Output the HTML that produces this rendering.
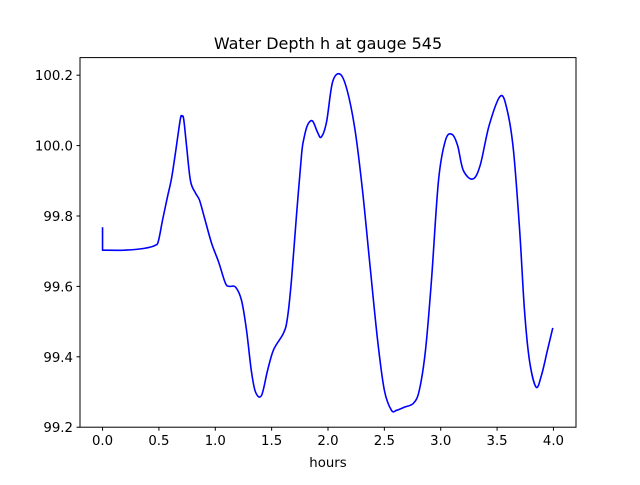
<!DOCTYPE html>
<html><head><meta charset="utf-8"><style>
body{margin:0;background:#fff;}
svg text{font-family:"DejaVu Sans","Liberation Sans",sans-serif;fill:#000;}
</style></head><body>
<svg id="chart" width="640" height="480" xmlns="http://www.w3.org/2000/svg">
<rect width="640" height="480" fill="#fff"/>
<text x="328" y="49" font-size="16" text-anchor="middle">Water Depth h at gauge 545</text>
<g id="xticks"></g>
<g id="yticks"></g>
<path id="line" fill="none" stroke="#0000ff" stroke-width="1.6" stroke-linejoin="round"/>
<rect x="80" y="57.6" width="496" height="369.6" fill="none" stroke="#000" stroke-width="1"/>
<text x="328" y="467" font-size="13.3" text-anchor="middle">hours</text>
</svg>
<script>
const times=[0,0,0.195,0.37,0.47,0.497,0.532,0.577,0.612,0.647,0.69,0.705,0.72,0.745,0.78,0.825,0.86,0.905,0.967,1.03,1.09,1.126,1.18,1.233,1.277,1.32,1.357,1.41,1.463,1.517,1.605,1.64,1.676,1.72,1.765,1.783,1.818,1.862,1.907,1.94,1.987,2.04,2.108,2.17,2.24,2.306,2.368,2.44,2.5,2.563,2.608,2.678,2.758,2.81,2.865,2.918,2.98,3.042,3.1,3.15,3.2,3.284,3.35,3.43,3.53,3.59,3.645,3.7,3.743,3.787,3.846,3.894,3.947,3.994];
const depths=[99.768,99.703,99.703,99.708,99.717,99.731,99.788,99.856,99.907,99.98,100.075,100.083,100.075,100.0,99.9,99.865,99.845,99.794,99.723,99.669,99.609,99.6,99.598,99.56,99.476,99.36,99.30,99.29,99.36,99.42,99.467,99.51,99.618,99.80,99.973,100.015,100.058,100.07,100.038,100.024,100.067,100.18,100.203,100.157,100.044,99.873,99.674,99.447,99.305,99.248,99.248,99.257,99.268,99.305,99.419,99.618,99.90,100.015,100.032,100.0,99.93,99.905,99.944,100.058,100.141,100.10,99.987,99.76,99.532,99.39,99.314,99.348,99.419,99.482];
const xTickLabels=["0.0","0.5","1.0","1.5","2.0","2.5","3.0","3.5","4.0"];
const yTickLabels=["99.2","99.4","99.6","99.8","100.0","100.2"];
const X0=80,X1=576,Y0=427.2,Y1=57.6,XMIN=-0.2,XMAX=4.2,YMIN=99.2,YMAX=100.25;
const sx=v=>X0+(v-XMIN)/(XMAX-XMIN)*(X1-X0);
const sy=v=>Y0-(v-YMIN)/(YMAX-YMIN)*(Y0-Y1);
const NS="http://www.w3.org/2000/svg";
const xg=document.getElementById('xticks'),yg=document.getElementById('yticks');
xTickLabels.forEach(l=>{const x=sx(parseFloat(l));
 const t=document.createElementNS(NS,'line');
 
 
 t.setAttribute('x1',x);t.setAttribute('x2',x);t.setAttribute('y1',Y0);t.setAttribute('y2',Y0+3.5);t.setAttribute('stroke','#000');xg.appendChild(t);
 const s=document.createElementNS(NS,'text');
 
 
 s.setAttribute('x',x);s.setAttribute('y',Y0+18);s.setAttribute('font-size','13.3');s.setAttribute('text-anchor','middle');s.textContent=l;xg.appendChild(s);});
yTickLabels.forEach(l=>{const y=sy(parseFloat(l));
 const t=document.createElementNS(NS,'line');
 
 
 t.setAttribute('x1',X0-3.5);t.setAttribute('x2',X0);t.setAttribute('y1',y);t.setAttribute('y2',y);t.setAttribute('stroke','#000');yg.appendChild(t);
 const s=document.createElementNS(NS,'text');
 
 
 s.setAttribute('x',X0-7);s.setAttribute('y',y+5);s.setAttribute('font-size','13.3');s.setAttribute('text-anchor','end');s.textContent=l;yg.appendChild(s);});
const P=times.map((t,i)=>[sx(t),sy(depths[i])]);
let d=`M${P[0][0]},${P[0][1]} L${P[1][0]},${P[1][1]}`;
for(let i=1;i<P.length-1;i++){const p0=P[Math.max(i-1,1)],p1=P[i],p2=P[i+1],p3=P[Math.min(i+2,P.length-1)];
 const c1=[p1[0]+(p2[0]-p0[0])/6,p1[1]+(p2[1]-p0[1])/6],c2=[p2[0]-(p3[0]-p1[0])/6,p2[1]-(p3[1]-p1[1])/6];
 d+=` C${c1[0]},${c1[1]} ${c2[0]},${c2[1]} ${p2[0]},${p2[1]}`;}
document.getElementById('line').setAttribute('d',d);
</script>
</body></html>
